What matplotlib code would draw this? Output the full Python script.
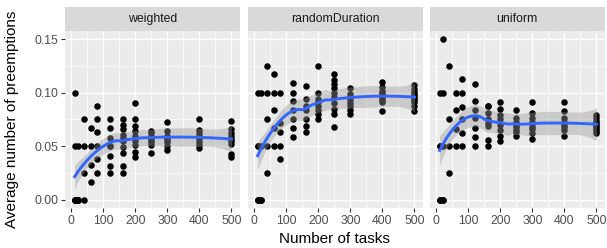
import numpy as np
import matplotlib
matplotlib.use("Agg")
import matplotlib.pyplot as plt

plt.rcParams['font.family'] = ['Liberation Sans', 'DejaVu Sans']

# number of tasks per column of points
task_counts = [10, 20, 40, 60, 80, 120, 160, 200, 250, 300, 400, 500]

panel_names = ["weighted", "randomDuration", "uniform"]

# average preemptions, one list per task count (read off the picture,
# overlapping stacks counted as several runs)
weighted = [
    [0.0, 0.0, 0.0, 0.0, 0.05, 0.10],
    [0.0, 0.0, 0.0, 0.05],
    [0.0, 0.05, 0.075, 0.025],
    [0.05, 0.067, 0.033, 0.017],
    [0.088, 0.075, 0.063, 0.05, 0.038, 0.025],
    [0.075, 0.067, 0.058, 0.05, 0.05, 0.041, 0.032, 0.025],
    [0.075, 0.070, 0.066, 0.061, 0.058, 0.055, 0.049, 0.044, 0.032, 0.025],
    [0.090, 0.075, 0.069, 0.064, 0.060, 0.055, 0.051, 0.045, 0.040],
    [0.064, 0.062, 0.060, 0.058, 0.056, 0.054, 0.051, 0.044],
    [0.073, 0.064, 0.060, 0.058, 0.056, 0.054, 0.050, 0.047],
    [0.075, 0.065, 0.062, 0.060, 0.057, 0.054, 0.051, 0.048],
    [0.074, 0.066, 0.062, 0.060, 0.057, 0.055, 0.052, 0.043, 0.040],
]

random_duration = [
    [0.0, 0.0, 0.0, 0.10, 0.05, 0.05],
    [0.0, 0.0, 0.10, 0.05],
    [0.125, 0.10, 0.075, 0.05, 0.025],
    [0.117, 0.10, 0.084, 0.067, 0.05],
    [0.10, 0.072, 0.063, 0.05, 0.038],
    [0.109, 0.10, 0.092, 0.084, 0.075, 0.067, 0.059],
    [0.106, 0.094, 0.088, 0.084, 0.075, 0.069, 0.063],
    [0.125, 0.10, 0.094, 0.091, 0.088, 0.084, 0.080, 0.075],
    [0.117, 0.112, 0.108, 0.104, 0.100, 0.096, 0.090, 0.085, 0.080, 0.068],
    [0.104, 0.099, 0.096, 0.093, 0.090, 0.088, 0.084, 0.080],
    [0.110, 0.105, 0.102, 0.100, 0.098, 0.095, 0.093, 0.091, 0.083],
    [0.107, 0.103, 0.101, 0.099, 0.097, 0.095, 0.093, 0.091, 0.088, 0.083],
]

uniform = [
    [0.0, 0.0, 0.0, 0.10, 0.05, 0.05],
    [0.0, 0.0, 0.15, 0.10, 0.05],
    [0.125, 0.075, 0.05, 0.025],
    [0.10, 0.084, 0.066, 0.05],
    [0.113, 0.10, 0.087, 0.075, 0.062, 0.05],
    [0.108, 0.092, 0.084, 0.076, 0.067, 0.059, 0.05],
    [0.088, 0.088, 0.081, 0.075, 0.072, 0.069, 0.056, 0.05],
    [0.091, 0.085, 0.079, 0.075, 0.070, 0.065, 0.060, 0.055],
    [0.084, 0.076, 0.073, 0.070, 0.068, 0.065, 0.063, 0.060],
    [0.091, 0.081, 0.076, 0.073, 0.071, 0.068, 0.066, 0.062, 0.057],
    [0.091, 0.083, 0.076, 0.073, 0.070, 0.068, 0.065, 0.060],
    [0.079, 0.076, 0.074, 0.072, 0.070, 0.068, 0.066, 0.064, 0.062],
]

panel_data = [weighted, random_duration, uniform]


def flatten(columns):
    xs, ys = [], []
    for n, values in zip(task_counts, columns):
        xs += [n] * len(values)
        ys += values
    return np.array(xs, float), np.array(ys, float)


# local quadratic loess (span 0.75), like geom_smooth's default
def loess_rows(x, points, span=0.75):
    n = len(x)
    q = int(np.floor(n * span))
    xs = x / 100.0
    L = np.zeros((len(points), n))
    for k, x0 in enumerate(points / 100.0):
        d = np.abs(xs - x0)
        h = np.sort(d)[q - 1] * 1.0001
        w = np.clip(1 - (d / h) ** 3, 0, None) ** 3
        X = np.column_stack([np.ones(n), xs - x0, (xs - x0) ** 2])
        XtW = X.T * w
        L[k] = np.linalg.solve(XtW @ X, XtW)[0]
    return L


def loess_band(x, y):
    grid = np.linspace(x.min(), x.max(), 80)
    L_data = loess_rows(x, x)
    resid = y - L_data @ y
    M = np.eye(len(x)) - L_data
    delta1 = np.trace(M.T @ M)
    sigma = np.sqrt(np.sum(resid ** 2) / delta1)
    L_grid = loess_rows(x, grid)
    fit = L_grid @ y
    se = sigma * np.sqrt(np.sum(L_grid ** 2, axis=1))
    return grid, fit, fit - 1.98 * se, fit + 1.98 * se


W, H = 607, 248
fig = plt.figure(figsize=(W / 100, H / 100), dpi=100)

lefts = [65, 248, 430]
pw = 174.5
top, bottom = 31, 208

for i, (name, cols) in enumerate(zip(panel_names, panel_data)):
    ax = fig.add_axes([lefts[i] / W, (H - bottom) / H, pw / W, (bottom - top) / H])
    ax.set_facecolor("#EBEBEB")
    for s in ax.spines.values():
        s.set_visible(False)

    x, y = flatten(cols)
    ax.scatter(x, y, s=22, color="black", linewidths=0, zorder=3)

    grid, fit, lo, hi = loess_band(x, y)
    ax.fill_between(grid, lo, hi, color="#999999", alpha=0.4, linewidth=0, zorder=4)
    ax.plot(grid, fit, color="#3366FF", lw=2.1, zorder=5)

    ax.set_xlim(-20, 525)
    ax.set_ylim(-0.0075, 0.1575)
    ax.set_xticks([0, 100, 200, 300, 400, 500])
    ax.set_xticks([50, 150, 250, 350, 450], minor=True)
    ax.set_yticks([0.0, 0.05, 0.10, 0.15])
    ax.set_yticks([0.025, 0.075, 0.125], minor=True)
    ax.grid(which="major", color="white", lw=1.07, zorder=0)
    ax.grid(which="minor", color="white", lw=0.53, zorder=0)
    ax.set_axisbelow(True)
    ax.tick_params(which="major", length=2.75, width=0.8, color="#333333",
                   labelsize=8.8, labelcolor="#4D4D4D", pad=2.2)
    ax.tick_params(which="minor", length=0)
    if i == 0:
        ax.set_yticklabels(["0.00", "0.05", "0.10", "0.15"])
    else:
        ax.tick_params(axis="y", which="both", left=False, labelleft=False)

    strip = fig.add_axes([lefts[i] / W, (H - top) / H, pw / W, 24 / H])
    strip.set_facecolor("#D9D9D9")
    strip.set_xticks([])
    strip.set_yticks([])
    for s in strip.spines.values():
        s.set_visible(False)
    strip.text(0.5, 0.5, name, ha="center", va="center", fontsize=8.8,
               color="#1A1A1A", transform=strip.transAxes)

fig.text((65 + 604.5) / 2 / W, 1 - 239 / H, "Number of tasks", ha="center",
         va="center", fontsize=11)
fig.text(12 / W, 1 - 119.5 / H, "Average number of preemptions", ha="center",
         va="center", rotation=90, fontsize=11)

fig.savefig("out.png", dpi=100)
